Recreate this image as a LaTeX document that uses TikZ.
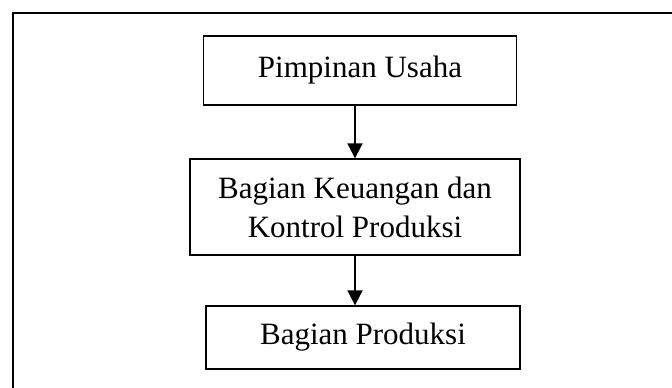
\documentclass[tikz,border=0pt]{standalone}
\usepackage{fontspec}
\setmainfont{Liberation Serif}
\usetikzlibrary{arrows.meta}
\def\boxfont{\fontsize{31}{39}\selectfont}

\begin{document}
\begin{tikzpicture}[x=1pt,y=-1pt,
    kotak/.style={draw,line width=1.3pt,inner sep=0pt,align=center,font=\boxfont},
    panah/.style={line width=1.8pt,-{Triangle[width=15pt,length=15pt]}}]
    \useasboundingbox (0,0) rectangle (672,388);
    \draw[line width=2pt] (13,388) -- (13,13) -- (672,13);
    \node[kotak,minimum width=313pt,minimum height=69pt] (pimpinan) at (360,70.5) {Pimpinan Usaha};
    \node[kotak,minimum width=330pt,minimum height=96pt] (keuangan) at (355,207) {Bagian Keuangan dan\\Kontrol Produksi};
    \node[kotak,minimum width=314pt,minimum height=63pt] (produksi) at (363,337.5) {Bagian Produksi};
    \draw[panah] (keuangan.north |- pimpinan.south) -- (keuangan.north);
    \draw[panah] (keuangan.south) -- (keuangan.south |- produksi.north);
\end{tikzpicture}
\end{document}
